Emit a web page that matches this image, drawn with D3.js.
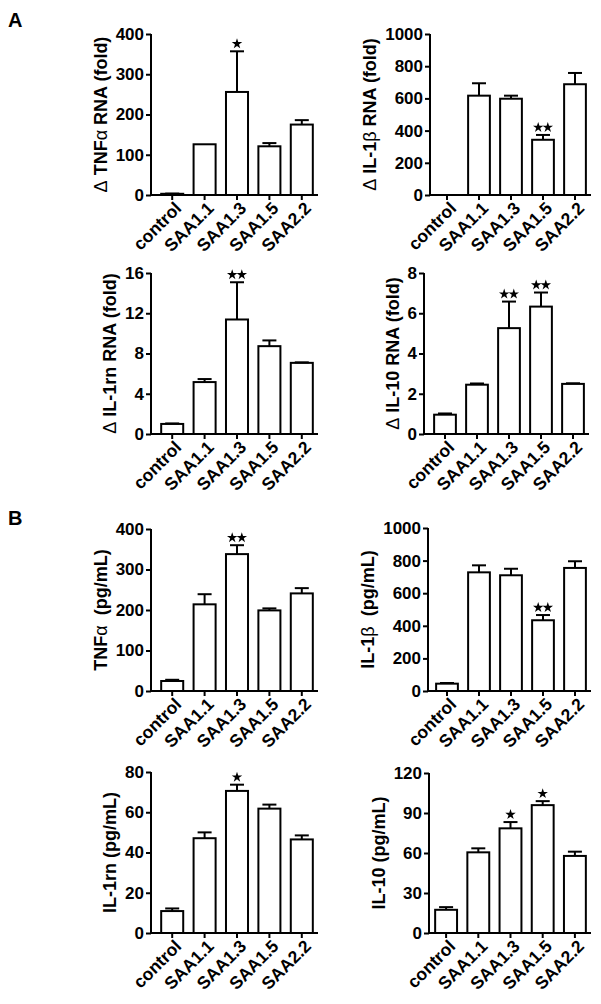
<!DOCTYPE html>
<html><head><meta charset="utf-8">
<script src="https://cdn.jsdelivr.net/npm/d3@7"></script>
<style>
html,body{margin:0;padding:0;background:#fff;}
svg{display:block;font-family:"Liberation Sans",Arial,sans-serif;}
</style></head>
<body>
<svg id="c" width="601" height="1004"></svg>
<script>
// ---- data ----
const categories = ["control","SAA1.1","SAA1.3","SAA1.5","SAA2.2"];

const tnfRnaMean  = [3, 126, 256, 121, 175];
const tnfRnaErr   = [0.5, 0, 101, 8, 11];
const tnfRnaSig   = [0, 0, 1, 0, 0];

const il1bRnaMean = [0, 617, 598, 343, 688];
const il1bRnaErr  = [0, 77, 19, 30, 70];
const il1bRnaSig  = [0, 0, 0, 2, 0];

const il1rnRnaMean = [1.0, 5.16, 11.38, 8.73, 7.07];
const il1rnRnaErr  = [0.05, 0.3, 3.7, 0.57, 0.05];
const il1rnRnaSig  = [0, 0, 2, 0, 0];

const il10RnaMean = [0.96, 2.45, 5.26, 6.33, 2.49];
const il10RnaErr  = [0.06, 0.06, 1.32, 0.7, 0.03];
const il10RnaSig  = [0, 0, 2, 2, 0];

const tnfPgMean = [24.7, 214, 338, 199, 241];
const tnfPgErr  = [3, 25, 22, 5, 13];
const tnfPgSig  = [0, 0, 2, 0, 0];

const il1bPgMean = [45, 728, 710, 434, 755];
const il1bPgErr  = [4, 43, 40, 32, 41];
const il1bPgSig  = [0, 0, 0, 2, 0];

const il1rnPgMean = [10.9, 47.1, 70.6, 61.8, 46.5];
const il1rnPgErr  = [1.3, 2.9, 3.1, 2, 2];
const il1rnPgSig  = [0, 0, 1, 0, 0];

const il10PgMean = [17.4, 60.5, 78.5, 95.9, 57.8];
const il10PgErr  = [2, 3, 4.7, 3, 3.2];
const il10PgSig  = [0, 0, 1, 1, 0];

const yTicks1 = [0,100,200,300,400];
const yTicks2 = [0,200,400,600,800,1000];
const yTicks3 = [0,4,8,12,16];
const yTicks4 = [0,2,4,6,8];
const yTicks5 = [0,100,200,300,400];
const yTicks6 = [0,200,400,600,800,1000];
const yTicks7 = [0,20,40,60,80];
const yTicks8 = [0,30,60,90,120];

const titles = [
  "Δ TNFα RNA (fold)", "Δ IL-1β RNA (fold)",
  "Δ IL-1rn RNA (fold)", "Δ IL-10 RNA (fold)",
  "TNFα  (pg/mL)", "IL-1β  (pg/mL)",
  "IL-1rn (pg/mL)", "IL-10 (pg/mL)"
];
const panelLetters = ["A", "B"];

// ---- layout (positions only) ----
const panels = [
  {mean:tnfRnaMean, err:tnfRnaErr, sig:tnfRnaSig, ticks:yTicks1, title:titles[0], ax:151, b0:156, b1:318, top:34, bot:195},
  {mean:il1bRnaMean, err:il1bRnaErr, sig:il1bRnaSig, ticks:yTicks2, title:titles[1], ax:430, b0:431, b1:591, top:34, bot:195},
  {mean:il1rnRnaMean, err:il1rnRnaErr, sig:il1rnRnaSig, ticks:yTicks3, title:titles[2], ax:151, b0:156, b1:318, top:273, bot:434},
  {mean:il10RnaMean, err:il10RnaErr, sig:il10RnaSig, ticks:yTicks4, title:titles[3], ax:424, b0:429, b1:589, top:273, bot:434},
  {mean:tnfPgMean, err:tnfPgErr, sig:tnfPgSig, ticks:yTicks5, title:titles[4], ax:151, b0:156, b1:318, top:529, bot:691},
  {mean:il1bPgMean, err:il1bPgErr, sig:il1bPgSig, ticks:yTicks6, title:titles[5], ax:428, b0:431, b1:591, top:528, bot:691},
  {mean:il1rnPgMean, err:il1rnPgErr, sig:il1rnPgSig, ticks:yTicks7, title:titles[6], ax:151, b0:156, b1:318, top:772, bot:933},
  {mean:il10PgMean, err:il10PgErr, sig:il10PgSig, ticks:yTicks8, title:titles[7], ax:429, b0:430, b1:591, top:773, bot:933}
];
const letterPos = [[8, 27], [8, 525]];

const svg = d3.select("#c");
const SW = 2;

panelLetters.forEach((L, i) => {
  svg.append("text").attr("x", letterPos[i][0]).attr("y", letterPos[i][1])
    .attr("font-size", 20).attr("font-weight", "bold").text(L);
});

const star = d3.symbol().type(d3.symbolStar).size(34);

panels.forEach(p => {
  const g = svg.append("g");
  const x = d3.scaleBand().domain(categories).range([p.b0, p.b1]).paddingInner(0.32).paddingOuter(0.16);
  const y = d3.scaleLinear().domain([p.ticks[0], p.ticks[p.ticks.length-1]]).range([p.bot, p.top]);
  const rows = categories.map((c, i) => ({c, m:p.mean[i], e:p.err[i], s:p.sig[i]}));

  // bars
  g.selectAll("rect.bar").data(rows.filter(d => d.m > 0)).join("rect")
    .attr("x", d => x(d.c)).attr("width", x.bandwidth())
    .attr("y", d => y(d.m)).attr("height", d => y(0) - y(d.m))
    .attr("fill", "#fff").attr("stroke", "#000").attr("stroke-width", SW);

  // error bars
  const eb = rows.filter(d => d.e > 0);
  const cx = d => x(d.c) + x.bandwidth()/2;
  g.selectAll("line.ev").data(eb).join("line")
    .attr("x1", cx).attr("x2", cx).attr("y1", d => y(d.m)).attr("y2", d => y(d.m + d.e))
    .attr("stroke", "#000").attr("stroke-width", SW);
  g.selectAll("line.ec").data(eb).join("line")
    .attr("x1", d => cx(d) - 7).attr("x2", d => cx(d) + 7)
    .attr("y1", d => y(d.m + d.e)).attr("y2", d => y(d.m + d.e))
    .attr("stroke", "#000").attr("stroke-width", SW);

  // stars
  rows.filter(d => d.s > 0).forEach(d => {
    const ty = y(d.m + d.e) - 7.5;
    for (let k = 0; k < d.s; k++) {
      const off = d.s === 1 ? 0 : (k === 0 ? -4.8 : 4.8);
      g.append("path").attr("d", star).attr("transform", `translate(${cx(d) + off},${ty})`)
        .attr("fill", "#000");
    }
  });

  // y axis
  const ya = g.append("g").attr("transform", `translate(${p.ax},0)`)
    .call(d3.axisLeft(y).tickValues(p.ticks).tickSize(5).tickPadding(2).tickFormat(d3.format("d")));
  ya.select(".domain").attr("stroke-width", SW).attr("d", `M0,${p.bot}V${p.top}`);
  ya.selectAll(".tick line").attr("stroke-width", SW);
  ya.selectAll(".tick text").attr("font-size", 17).attr("font-weight", "bold")
    .attr("font-family", "Liberation Sans, Arial, sans-serif").attr("fill", "#000");

  // x axis
  const xa = g.append("g").attr("transform", `translate(0,${p.bot})`)
    .call(d3.axisBottom(x).tickSize(5).tickSizeOuter(0).tickFormat(""));
  xa.select(".domain").attr("stroke-width", SW).attr("d", `M${p.ax},0H${p.b1}`);
  xa.selectAll(".tick line").attr("stroke-width", SW);
  xa.selectAll(".tick").append("text")
    .attr("text-anchor", "end").attr("fill", "#000")
    .attr("font-size", 17.5).attr("font-weight", "bold")
    .attr("font-family", "Liberation Sans, Arial, sans-serif")
    .attr("transform", "translate(6,10) rotate(-45)")
    .attr("dy", "0.35em")
    .text(d => d);

  // title
  let minX = Infinity;
  ya.selectAll(".tick text").each(function(){ const b = this.getBBox(); minX = Math.min(minX, b.x); });
  const tx = p.ax + minX - 9;
  const ty = (p.top + p.bot) / 2;
  const t = g.append("text").attr("transform", `translate(${tx},${ty}) rotate(-90)`)
    .attr("text-anchor", "middle").attr("font-size", 18).attr("font-weight", "bold").attr("fill", "#000");
  p.title.split(/([ΔαβΑ-ω])/).filter(s => s.length).forEach(s => {
    const gk = /[Α-ω]/.test(s);
    t.append("tspan").attr("font-weight", gk ? "normal" : "bold").attr("xml:space", "preserve").text(s);
  });
});
</script>
</body></html>
